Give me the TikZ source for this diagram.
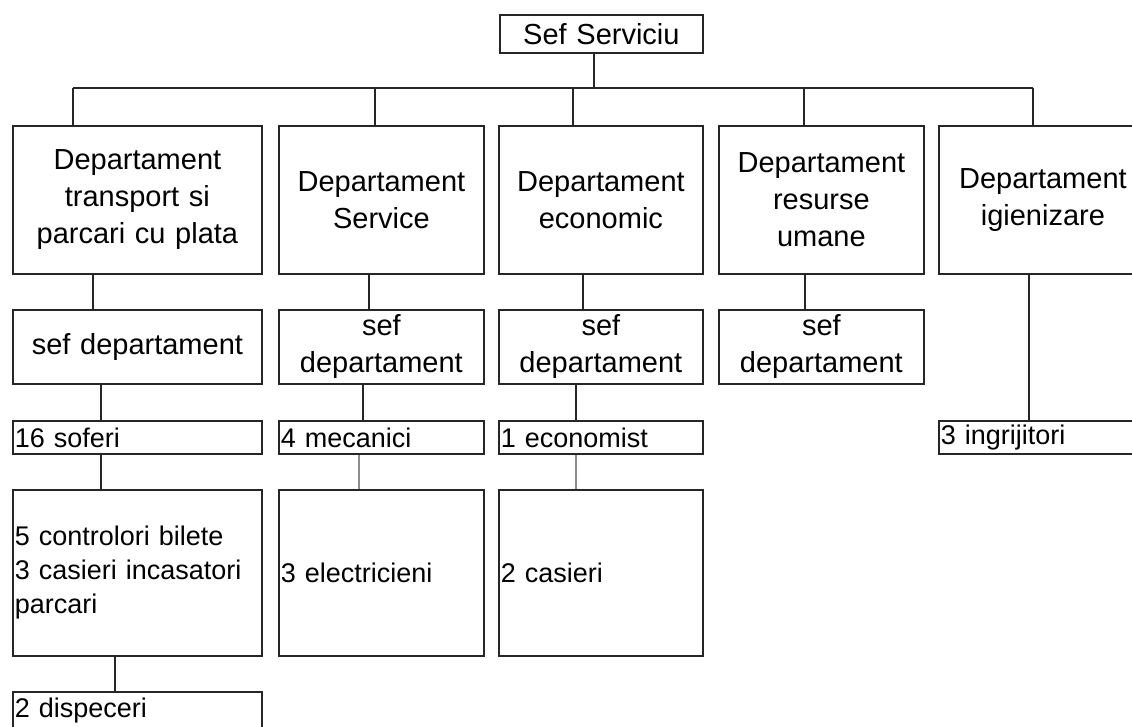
\documentclass[tikz,border=0pt]{standalone}
\usepackage{fontspec}
\setmainfont{Liberation Sans}
\tikzset{
  unit/.style={draw=black!85, line width=1.8pt, rectangle, anchor=north west, inner ysep=0pt},
  dept/.style={unit, inner xsep=4pt, align=center, font=\fontsize{29}{37}\selectfont},
  staff/.style={unit, inner xsep=2pt, align=left, font=\fontsize{27}{34}\selectfont},
  link/.style={draw=black!85, line width=1.7pt},
  faint/.style={draw=black!45, line width=2.4pt}
}
\begin{document}
\begin{tikzpicture}[x=1pt,y=-1pt]
\useasboundingbox (0,0) rectangle (1132,726);
\clip (0,0) rectangle (1132,726);

% conducere
\node[dept, text width=195pt, minimum height=38pt] (sef) at (499,14) {Sef Serviciu};

% departamente
\node[dept, text width=241pt, minimum height=148pt] (d1) at (12,125) {Departament\\transport si\\parcari cu plata};
\node[dept, text width=197pt, minimum height=148pt] (d2) at (278,125) {Departament\\Service};
\node[dept, text width=196pt, minimum height=148pt] (d3) at (498,125) {Departament\\economic};
\node[dept, text width=197pt, minimum height=148pt] (d4) at (718,125) {Departament\\resurse\\umane};
\node[dept, text width=200pt, minimum height=148pt] (d5) at (938,125) {Departament\\igienizare};

% sefi de departament
\node[dept, text width=241pt, minimum height=74pt] (s1) at (12,309) {sef departament};
\node[dept, text width=197pt, minimum height=74pt] (s2) at (278,309) {sef\\departament};
\node[dept, text width=196pt, minimum height=74pt] (s3) at (498,309) {sef\\departament};
\node[dept, text width=197pt, minimum height=74pt] (s4) at (718,309) {sef\\departament};

% personal
\node[staff, text width=245pt, minimum height=33pt] (w1) at (12,420) {16 soferi};
\node[staff, text width=201pt, minimum height=33pt] (w2) at (278,420) {4 mecanici};
\node[staff, text width=200pt, minimum height=33pt] (w3) at (498,420) {1 economist};
\node[staff, text width=204pt, minimum height=33pt] (w5) at (938,420) {3 ingrijitori};

\node[staff, text width=245pt, minimum height=166pt] (m1) at (12,489) {5 controlori bilete\\3 casieri incasatori\\parcari};
\node[staff, text width=201pt, minimum height=166pt] (m2) at (278,489) {3 electricieni};
\node[staff, text width=200pt, minimum height=166pt] (m3) at (498,489) {2 casieri};

\node[staff, text width=245pt, minimum height=38pt] (p1) at (12,691) {2 dispeceri};

% legaturi
\coordinate (t) at (594,88);
\draw[link] (t |- sef.south) -- (t);
\foreach \n/\x in {1/73,2/375,3/573,4/804,5/1033} {
  \coordinate (b\n) at (\x,88);
  \draw[link] (b\n) -- (b\n |- d\n.north);
}
\draw[link] (b1) -- (b5);

\coordinate (c1) at (93,0);
\coordinate (c2) at (369,0);
\coordinate (c3) at (583,0);
\coordinate (c4) at (805,0);
\coordinate (c5) at (1029,0);
\draw[link] (c1 |- d1.south) -- (c1 |- s1.north);
\draw[link] (c2 |- d2.south) -- (c2 |- s2.north);
\draw[link] (c3 |- d3.south) -- (c3 |- s3.north);
\draw[link] (c4 |- d4.south) -- (c4 |- s4.north);
\draw[link] (c5 |- d5.south) -- (c5 |- w5.north);

\coordinate (e1) at (101,0);
\coordinate (e2) at (363,0);
\coordinate (e3) at (576,0);
\draw[link] (e1 |- s1.south) -- (e1 |- w1.north);
\draw[link] (e2 |- s2.south) -- (e2 |- w2.north);
\draw[link] (e3 |- s3.south) -- (e3 |- w3.north);

\coordinate (f2) at (359,0);
\draw[link] (e1 |- w1.south) -- (e1 |- m1.north);
\draw[faint] (f2 |- w2.south) -- (f2 |- m2.north);
\draw[faint] (e3 |- w3.south) -- (e3 |- m3.north);

\coordinate (g1) at (115,0);
\draw[link] (g1 |- m1.south) -- (g1 |- p1.north);
\end{tikzpicture}
\end{document}
